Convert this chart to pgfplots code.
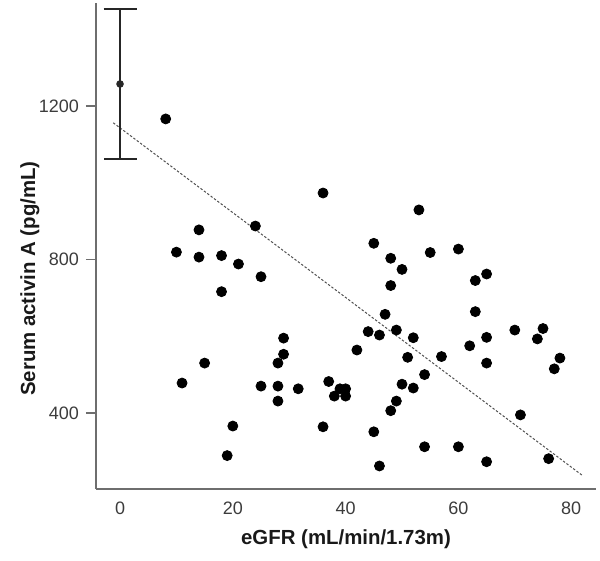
\documentclass[border=0pt]{standalone}
\usepackage{fontspec}
\setmainfont{Liberation Sans}
\usepackage{pgfplots}
\pgfplotsset{compat=1.18}

\definecolor{axgray}{RGB}{110,110,110}
\definecolor{txtgray}{RGB}{60,60,60}
\definecolor{fitgray}{RGB}{80,80,80}

\begin{document}
\begin{tikzpicture}
\begin{axis}[
    name=ax,
    scale only axis,
    width=250pt, height=243pt,
    xmin=-4.26, xmax=84.4,
    ymin=202, ymax=1468,
    axis x line*=bottom,
    axis y line*=left,
    axis line style={-, draw=axgray, line width=0.7pt},
    xtick={0,20,40,60,80},
    ytick={400,800,1200},
    xtick style={draw=none},
    ytick style={draw=axgray, line width=0.7pt},
    tick align=outside,
    major tick length=5pt,
    /pgf/number format/assume math mode=true,
    /pgf/number format/1000 sep={},
    tick label style={font=\fontsize{9}{10}\selectfont, text=txtgray},
    xticklabel style={yshift=2pt},
    xlabel={eGFR (mL/min/1.73m)},
    ylabel={Serum activin A (pg/mL)},
    label style={font=\fontsize{10.2}{12}\selectfont\bfseries, text=black!90},
    xlabel style={at={(axis description cs:0.5,0)}, anchor=north, yshift=-17pt},
    ylabel style={at={(axis description cs:-0.132,0.433)}, anchor=center},
    clip=false,
]

% fit line
\addplot[fitgray, line width=0.5pt, dash pattern=on 1.2pt off 0.9pt]
  coordinates {(-1.2,1156) (82.1,236)};

% mean with error bar
\addplot[black!85, line width=1.1pt, mark=*, mark size=1.3pt,
  error bars/.cd, y dir=both, y explicit,
  error bar style={line width=1.1pt, black!85},
  error mark options={rotate=90, mark size=8.25pt, line width=1.1pt, black!85}]
  coordinates {(0,1257) +- (0,195)};

% patients
\addplot[only marks, mark=*, mark size=2.5pt, black]
  coordinates {
  (8.1,1166) (14,877) (24,887) (10,819) (14,806) (18,810) (21,788) (25,755)
  (18,716) (29,595) (29,553) (28,530) (15,530) (11,478) (25,470) (28,470)
  (31.6,463) (28,431) (20,366) (19,289) (36,973) (53,929) (45,842) (48,803)
  (50,774) (55,818) (60,827) (65,762) (63,745) (48,732) (63,664) (47,657)
  (44,612) (46,603) (49,616) (52,596) (70,616) (75,620) (74,593) (65,597)
  (62,575) (42,564) (51,545) (57,547) (65,530) (78,543) (77,515) (54,500)
  (37,482) (39,463) (40,463) (38,444) (40,444) (50,475) (52,465) (49,431)
  (48,406) (36,364) (45,351) (54,312) (60,312) (71,395) (46,262) (65,273)
  (76,281)
  };
\end{axis}
\path ([shift={(-48pt,-36pt)}]ax.south west) rectangle ([shift={(2pt,1.5pt)}]ax.north east);
\end{tikzpicture}
\end{document}
